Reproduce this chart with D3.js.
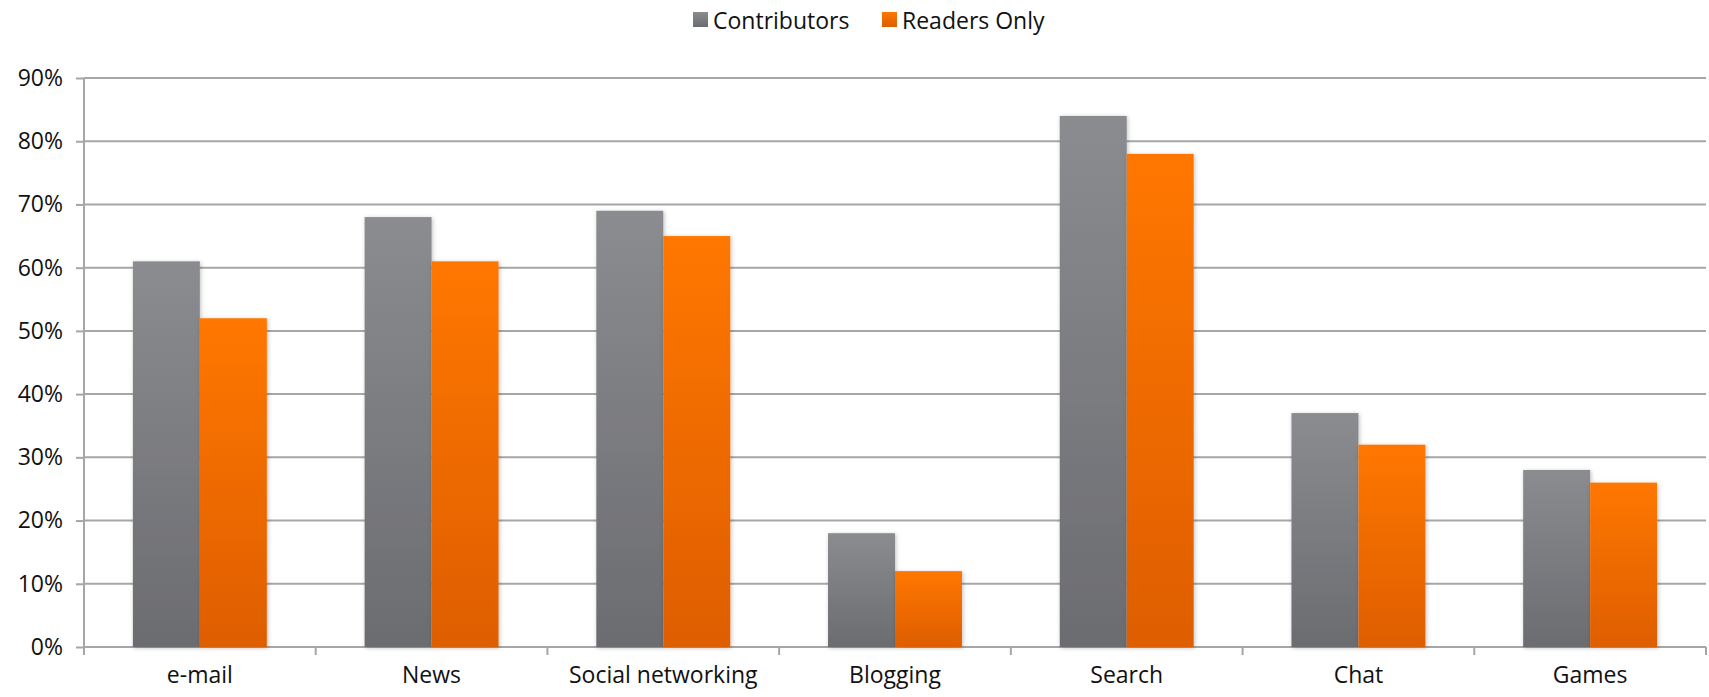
<!DOCTYPE html>
<html>
<head>
<meta charset="utf-8">
<script src="https://cdn.jsdelivr.net/npm/d3@7"></script>
<style>
  html, body { margin: 0; padding: 0; background: #fff; overflow: hidden; }
  svg { display: block; }
  text { font-family: "Open Sans", "DejaVu Sans", sans-serif; fill: #111; }
</style>
</head>
<body>
<svg id="chart"></svg>
<script>
/* data */
var categories = ["e-mail", "News", "Social networking", "Blogging", "Search", "Chat", "Games"];
var seriesNames = ["Contributors", "Readers Only"];
var contributors = [61, 68, 69, 18, 84, 37, 28];
var readersOnly = [52, 61, 65, 12, 78, 32, 26];
var yTicks = [0, 10, 20, 30, 40, 50, 60, 70, 80, 90];

var width = 1709, height = 697,
    margin = { top: 78, right: 3, bottom: 50, left: 84 };
var innerWidth = width - margin.left - margin.right,
    innerHeight = height - margin.top - margin.bottom;

var svg = d3.select("#chart").attr("width", width).attr("height", height);

/* gradients */
var defs = svg.append("defs");
function grad(id, top, bottom) {
  var g = defs.append("linearGradient").attr("id", id)
    .attr("x1", 0).attr("y1", 0).attr("x2", 0).attr("y2", 1);
  g.append("stop").attr("offset", "0%").attr("stop-color", top);
  g.append("stop").attr("offset", "100%").attr("stop-color", bottom);
}
grad("gGray", "#8b8c90", "#6b6c70");
grad("gOrange", "#ff7700", "#de5e00");
var f = defs.append("filter").attr("id", "shadow")
  .attr("x", "-20%").attr("y", "-5%").attr("width", "140%").attr("height", "110%");
f.append("feDropShadow").attr("dx", 1).attr("dy", 1).attr("stdDeviation", 2)
  .attr("flood-color", "#000").attr("flood-opacity", 0.25);

var g = svg.append("g").attr("transform", "translate(" + margin.left + "," + margin.top + ")");

/* scales */
var x = d3.scaleBand().domain(categories).range([0, innerWidth]).paddingInner(0).paddingOuter(0);
var xInner = d3.scaleBand().domain(seriesNames)
  .range([x.bandwidth() * 0.211, x.bandwidth() * 0.789]);
var y = d3.scaleLinear().domain([0, 90]).range([innerHeight, 0]);

/* y axis and grid */
var yAxis = d3.axisLeft(y).tickValues(yTicks).tickSize(8).tickPadding(13)
  .tickFormat(function (d) { return d + "%"; });
var yAxisG = g.append("g").attr("class", "y-axis").call(yAxis);
yAxisG.select(".domain").remove();
yAxisG.selectAll(".tick line").attr("stroke", "#a6a6a6").attr("stroke-width", 2);
yAxisG.selectAll(".tick text").style("font-size", "23px");

g.append("g").attr("class", "grid")
  .selectAll("line").data(yTicks).enter().append("line")
  .attr("x1", 0).attr("x2", innerWidth)
  .attr("y1", function (d) { return y(d); }).attr("y2", function (d) { return y(d); })
  .attr("stroke", "#a6a6a6").attr("stroke-width", 2);

g.append("line").attr("x1", 0).attr("x2", 0).attr("y1", 0).attr("y2", innerHeight + 8)
  .attr("stroke", "#a6a6a6").attr("stroke-width", 2);

/* x axis */
var xAxisG = g.append("g").attr("class", "x-axis")
  .attr("transform", "translate(0," + innerHeight + ")")
  .call(d3.axisBottom(x).tickSize(0).tickPadding(20));
xAxisG.select(".domain").remove();
xAxisG.selectAll(".tick text").style("font-size", "23px");
g.append("g").selectAll("line").data(categories).enter().append("line")
  .attr("x1", function (d) { return x(d) + x.bandwidth(); })
  .attr("x2", function (d) { return x(d) + x.bandwidth(); })
  .attr("y1", innerHeight).attr("y2", innerHeight + 8)
  .attr("stroke", "#a6a6a6").attr("stroke-width", 2);

/* bars */
var rows = categories.map(function (c, i) {
  return { cat: c, values: [contributors[i], readersOnly[i]] };
});
var groups = g.append("g").selectAll("g").data(rows).enter().append("g")
  .attr("transform", function (d) { return "translate(" + x(d.cat) + ",0)"; });
groups.selectAll("rect").data(function (d) {
  return d.values.map(function (v, j) { return { s: seriesNames[j], v: v }; });
}).enter().append("rect")
  .attr("x", function (d) { return xInner(d.s); })
  .attr("width", xInner.bandwidth())
  .attr("y", function (d) { return y(d.v); })
  .attr("height", function (d) { return innerHeight - y(d.v); })
  .attr("fill", function (d) { return d.s === "Contributors" ? "url(#gGray)" : "url(#gOrange)"; })
  .attr("filter", "url(#shadow)");

/* legend */
var legend = svg.append("g").attr("class", "legend");
var legendX = [693, 882];
seriesNames.forEach(function (s, i) {
  legend.append("rect").attr("x", legendX[i]).attr("y", 12).attr("width", 15).attr("height", 15)
    .attr("fill", i === 0 ? "url(#gGray)" : "url(#gOrange)");
  legend.append("text").attr("x", legendX[i] + 20).attr("y", 29)
    .style("font-size", "23px").text(s);
});
</script>
</body>
</html>
